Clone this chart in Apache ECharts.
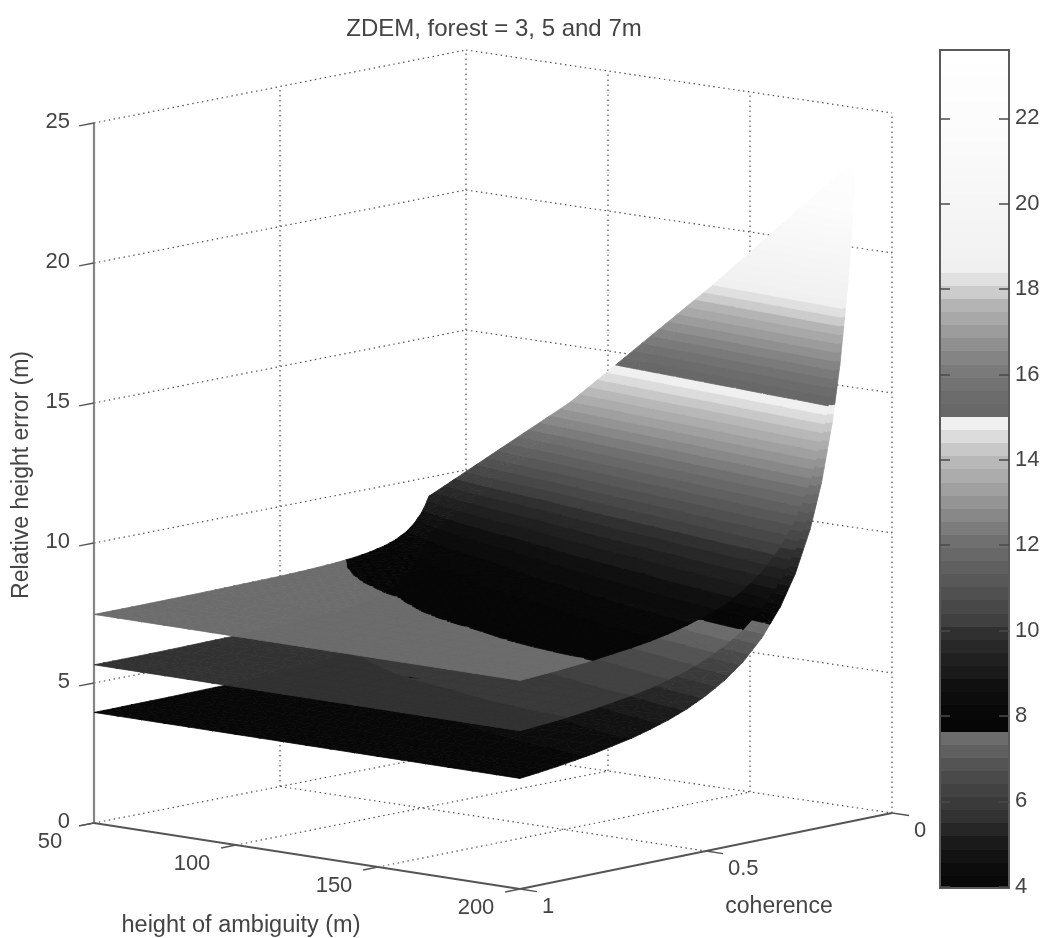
<!DOCTYPE html>
<html>
<head>
<meta charset="utf-8">
<style>
html,body{margin:0;padding:0;background:#fff}
#chart{width:1045px;height:938px;filter:blur(0.6px)}
</style>
<script src="https://cdn.jsdelivr.net/npm/echarts@6/dist/echarts.min.js"></script>
</head>
<body>
<div id="chart"></div>
<script>
// ---- data ----
const ambiguityTicks = [50, 100, 150, 200];
const coherenceTicks = [1, 0.5, 0];
const coherenceTickLabels = ['1', '0.5', '0'];
const heightTicks = [0, 5, 10, 15, 20, 25];
const colorbarTicks = [4, 6, 8, 10, 12, 14, 16, 18, 20, 22];

const ambiguitySamples = [50, 100, 150, 200];
const coherenceSamples = [1, 0.95, 0.9, 0.8, 0.7, 0.65, 0.6, 0.55, 0.5, 0.45, 0.4, 0.35, 0.3, 0.26, 0.22, 0.19, 0.16, 0.14, 0.12, 0.11, 0.10];

const surfaceLow = [
  [3.95, 3.95, 3.95, 3.95], [3.95, 3.96, 3.99, 4.02], [3.96, 3.99, 4.03, 4.10], [3.97, 4.04, 4.15, 4.30], [3.99, 4.11, 4.31, 4.57],
  [4.00, 4.16, 4.41, 4.75], [4.02, 4.22, 4.55, 4.96], [4.04, 4.30, 4.71, 5.22], [4.07, 4.40, 4.92, 5.55], [4.10, 4.54, 5.18, 5.96],
  [4.15, 4.71, 5.52, 6.49], [4.23, 4.97, 6.00, 7.20],
  [4.34, 5.33, 6.67, 8.18], [4.47, 5.75, 7.41, 9.25], [4.67, 6.36, 8.46, 10.73], [4.90, 7.03, 9.58, 12.28],
  [5.26, 7.99, 11.14, 14.43], [5.61, 8.88, 12.57, 16.39], [6.10, 10.11, 14.51, 19.02], [6.44, 10.90, 15.75, 20.71],
  [6.85, 11.87, 17.25, 22.74]
];
const surfaceMid = [
  [5.65, 5.65, 5.65, 5.65], [5.65, 5.66, 5.68, 5.70], [5.65, 5.67, 5.71, 5.75], [5.66, 5.71, 5.79, 5.90], [5.68, 5.76, 5.91, 6.10],
  [5.69, 5.80, 5.98, 6.23], [5.70, 5.84, 6.08, 6.40], [5.71, 5.90, 6.20, 6.60], [5.73, 5.97, 6.36, 6.86], [5.76, 6.07, 6.56, 7.20],
  [5.79, 6.21, 6.84, 7.64], [5.85, 6.40, 7.23, 8.25],
  [5.92, 6.69, 7.79, 9.12], [6.02, 7.03, 8.44, 10.09], [6.18, 7.54, 9.38, 11.47], [6.35, 8.11, 10.39, 12.93],
  [6.63, 8.95, 11.84, 14.99], [6.91, 9.76, 13.20, 16.88], [7.32, 10.89, 15.06, 19.45], [7.60, 11.63, 16.26, 21.10],
  [7.95, 12.54, 17.72, 23.09]
];
const surfaceTop = [
  [7.45, 7.45, 7.45, 7.45], [7.45, 7.46, 7.47, 7.49], [7.45, 7.47, 7.49, 7.53], [7.46, 7.50, 7.56, 7.64], [7.47, 7.54, 7.65, 7.80],
  [7.48, 7.57, 7.71, 7.90], [7.49, 7.60, 7.78, 8.03], [7.50, 7.64, 7.88, 8.20], [7.51, 7.70, 8.00, 8.41], [7.53, 7.78, 8.17, 8.68],
  [7.56, 7.88, 8.39, 9.06], [7.60, 8.03, 8.71, 9.58],
  [7.66, 8.27, 9.18, 10.33], [7.74, 8.54, 9.74, 11.20], [7.86, 8.97, 10.56, 12.45], [8.00, 9.45, 11.47, 13.81],
  [8.22, 10.18, 12.80, 15.75], [8.45, 10.90, 14.07, 17.57], [8.78, 11.92, 15.82, 20.05], [9.02, 12.60, 16.97, 21.65],
  [9.32, 13.45, 18.37, 23.60]
];

// 64-entry grey colormap, as seen in the colour bar (bottom to top)
const colormapGreys = [
  8, 12, 18, 26, 38, 50, 58, 66, 74, 84, 96, 108,
  6, 8, 12, 16, 26, 32, 40, 48, 64, 72, 80, 88, 96, 104, 112, 124, 136, 148, 160, 172, 184, 200, 220, 240,
  104, 108, 114, 122, 132, 144, 156, 168, 180, 204, 224,
  240, 242, 243, 244, 245, 246, 247, 248, 249, 250, 251, 252, 252, 253, 253, 254, 255
];
const colorMin = 3.95;
const colorMax = 23.6;

// ---- view of the 3D box: screen units of the hidden page axes ----
const VIEW = { ox: 94, oy: 823, ux: 426, uy: 66, vx: 372, vy: -73, twist: -3, zs: 28 };
function project(amb, coh, z) {
  const u = (amb - 50) / 150, v = 1 - coh;
  return [VIEW.ox + VIEW.ux * u + VIEW.vx * v,
          VIEW.oy + VIEW.uy * u + VIEW.vy * v + VIEW.twist * u * v - VIEW.zs * z];
}

const levelStep = (colorMax - colorMin) / colormapGreys.length;
const greyCss = i => { const g = colormapGreys[i]; return 'rgb(' + g + ',' + g + ',' + g + ')'; };

// clip a polygon [x,y,z] to the z range of a colour band
function clipBand(poly, lo, hi) {
  const clip = (pts, keep, lim) => {
    const out = [];
    for (let i = 0; i < pts.length; i++) {
      const a = pts[i], b = pts[(i + 1) % pts.length];
      const ka = keep(a[2]), kb = keep(b[2]);
      if (ka) out.push(a);
      if (ka !== kb) {
        const t = (lim - a[2]) / (b[2] - a[2]);
        out.push([a[0] + t * (b[0] - a[0]), a[1] + t * (b[1] - a[1]), lim]);
      }
    }
    return out;
  };
  let p = poly;
  if (lo !== null) p = clip(p, z => z >= lo, lo);
  if (p.length && hi !== null) p = clip(p, z => z <= hi, hi);
  return p;
}

const SUB_A = 6, SUB_C = 2; // drawing subdivision of one table cell (shading only)
function surfaceSeries(table, order) {
  const cells = [];
  for (let j = coherenceSamples.length - 2; j >= 0; j--) {
    for (let i = 0; i < ambiguitySamples.length - 1; i++) cells.push([i, j]);
  }
  return {
    type: 'custom', coordinateSystem: 'cartesian2d', xAxisIndex: 0, yAxisIndex: 0,
    silent: true, z: 5 + order, animation: false, data: cells,
    renderItem(params, api) {
      const i = api.value(0), j = api.value(1);
      const vert = (sa, sc) => {
        const ta = sa / SUB_A, tc = sc / SUB_C;
        const z0 = table[j][i] * (1 - ta) + table[j][i + 1] * ta;
        const z1 = table[j + 1][i] * (1 - ta) + table[j + 1][i + 1] * ta;
        const z = z0 * (1 - tc) + z1 * tc;
        const amb = ambiguitySamples[i] * (1 - ta) + ambiguitySamples[i + 1] * ta;
        const coh = coherenceSamples[j] * (1 - tc) + coherenceSamples[j + 1] * tc;
        const s = api.coord(project(amb, coh, z));
        return [s[0], s[1], z];
      };
      const children = [];
      for (let sc = SUB_C - 1; sc >= 0; sc--) {
        for (let sa = 0; sa < SUB_A; sa++) {
          const p00 = vert(sa, sc), p10 = vert(sa + 1, sc), p01 = vert(sa, sc + 1), p11 = vert(sa + 1, sc + 1);
          const tris = [[p01, p10, p00], [p01, p11, p10]];
          tris.forEach(t => {
            const zs = t.map(q => q[2]);
            const zmin = Math.min.apply(null, zs), zmax = Math.max.apply(null, zs);
            for (let k = 0; k < colormapGreys.length; k++) {
              const lo = k === 0 ? null : colorMin + k * levelStep;
              const hi = k === colormapGreys.length - 1 ? null : colorMin + (k + 1) * levelStep;
              if ((hi !== null && zmin > hi) || (lo !== null && zmax < lo)) continue;
              const poly = clipBand(t, lo, hi);
              if (poly.length < 3) continue;
              const c = greyCss(k);
              children.push({
                type: 'polygon',
                shape: { points: poly.map(q => [q[0], q[1]]) },
                style: { fill: c, stroke: c, lineWidth: 0.8 }
              });
            }
          });
        }
      }
      return { type: 'group', children };
    }
  };
}

// ---- box grid lines, as pairs of 3D ends ----
const minA = ambiguityTicks[0], maxA = ambiguityTicks[ambiguityTicks.length - 1];
const topZ = heightTicks[heightTicks.length - 1];
const gridSegments = [];
heightTicks.forEach(z => {
  gridSegments.push([[minA, 1, z], [minA, 0, z]]);
  gridSegments.push([[minA, 0, z], [maxA, 0, z]]);
});
ambiguityTicks.slice(1).forEach(a => gridSegments.push([[a, 0, 0], [a, 0, topZ]]));
ambiguityTicks.slice(1, 3).forEach(a => gridSegments.push([[a, 1, 0], [a, 0, 0]]));
gridSegments.push([[minA, 0.5, 0], [minA, 0.5, topZ]]);
gridSegments.push([[minA, 0, 0], [minA, 0, topZ]]);
gridSegments.push([[minA, 0.5, 0], [maxA, 0.5, 0]]);

const gridSeries = {
  type: 'custom', coordinateSystem: 'cartesian2d', xAxisIndex: 0, yAxisIndex: 0,
  silent: true, z: 2, animation: false,
  data: gridSegments.map((s, i) => [i]),
  renderItem(params, api) {
    const s = gridSegments[api.value(0)];
    const a = api.coord(project.apply(null, s[0])), b = api.coord(project.apply(null, s[1]));
    return { type: 'line', shape: { x1: a[0], y1: a[1], x2: b[0], y2: b[1] },
      style: { stroke: '#555', lineWidth: 1.2, lineDash: [1.5, 3.5] } };
  }
};

// ---- box axes, ticks and tick labels ----
const axisItems = [];
const axisColor = '#555', labelColor = '#444', labelFont = '22px "Liberation Sans"';
axisItems.push({ seg: [[minA, 1, 0], [minA, 1, topZ]], color: '#858585', width: 2.2 });
axisItems.push({ seg: [[minA, 1, 0], [maxA, 1, 0]], color: axisColor, width: 1.8 });
axisItems.push({ seg: [[maxA, 1, 0], [maxA, 0, 0]], color: axisColor, width: 1.8 });
heightTicks.forEach(z => {
  axisItems.push({ seg: [[minA, 1, z], [minA, 1.04, z]], color: axisColor, width: 1.4 });
  axisItems.push({ at: [minA, 1, z], dx: -24, dy: -1, text: String(z), align: 'right' });
});
ambiguityTicks.forEach(a => {
  axisItems.push({ seg: [[a, 1, 0], [a, 1.04, 0]], color: axisColor, width: 1.4 });
  axisItems.push({ at: [a, 1, 0], dx: -44, dy: 19, text: String(a), align: 'center' });
});
coherenceTicks.forEach((c, i) => {
  axisItems.push({ seg: [[maxA, c, 0], [maxA + 6, c, 0]], color: axisColor, width: 1.4 });
  axisItems.push({ at: [maxA, c, 0], dx: 22, dy: 18, text: coherenceTickLabels[i], align: 'left' });
});

const axisSeries = {
  type: 'custom', coordinateSystem: 'cartesian2d', xAxisIndex: 0, yAxisIndex: 0,
  silent: true, z: 3, animation: false,
  data: axisItems.map((s, i) => [i]),
  renderItem(params, api) {
    const it = axisItems[api.value(0)];
    if (it.seg) {
      const a = api.coord(project.apply(null, it.seg[0])), b = api.coord(project.apply(null, it.seg[1]));
      return { type: 'line', shape: { x1: a[0], y1: a[1], x2: b[0], y2: b[1] },
        style: { stroke: it.color, lineWidth: it.width } };
    }
    const p = api.coord(project.apply(null, it.at));
    return { type: 'text', style: { x: p[0] + it.dx, y: p[1] + it.dy, text: it.text, fill: labelColor,
      font: labelFont, align: it.align, verticalAlign: 'middle' } };
  }
};

// ---- colour bar ----
const colorbarSeries = {
  type: 'custom', coordinateSystem: 'cartesian2d', xAxisIndex: 1, yAxisIndex: 1,
  silent: true, z: 1, animation: false,
  data: colormapGreys.map((g, i) => [i]),
  renderItem(params, api) {
    const k = api.value(0);
    const a = api.coord([0, colorMin + k * levelStep]);
    const b = api.coord([1, colorMin + (k + 1) * levelStep]);
    const top = Math.round(b[1]), bottom = Math.round(a[1]);
    return { type: 'rect', shape: { x: a[0], y: top, width: b[0] - a[0], height: bottom - top },
      style: { fill: greyCss(k) } };
  }
};

const frameLine = { show: true, onZero: false, lineStyle: { color: '#5a5a5a', width: 2 } };
const chart = echarts.init(document.getElementById('chart'));
chart.setOption({
  animation: false,
  backgroundColor: '#fff',
  title: {
    text: 'ZDEM, forest = 3, 5 and 7m', left: 489, top: 12, textAlign: 'center',
    textStyle: { fontFamily: 'Liberation Sans', fontSize: 24, fontWeight: 'normal', color: '#444' }
  },
  grid: [
    { left: 0, right: 0, top: 0, bottom: 0 },
    { left: 940, width: 69, top: 50, height: 838 }
  ],
  xAxis: [
    { type: 'value', gridIndex: 0, min: 0, max: 1045, show: false },
    { type: 'value', gridIndex: 1, min: 0, max: 1, position: 'bottom', axisLine: frameLine, axisTick: { show: false }, axisLabel: { show: false }, splitLine: { show: false }, z: 4 },
    { type: 'value', gridIndex: 1, min: 0, max: 1, position: 'top', axisLine: frameLine, axisTick: { show: false }, axisLabel: { show: false }, splitLine: { show: false }, z: 4 }
  ],
  yAxis: [
    { type: 'value', gridIndex: 0, min: 0, max: 938, inverse: true, show: false },
    { type: 'value', gridIndex: 1, min: 3.97, max: 23.6, position: 'right', axisLine: frameLine, splitLine: { show: false }, z: 4,
      axisTick: { show: true, inside: true, length: 10, customValues: colorbarTicks, lineStyle: { color: '#4a4a4a', width: 1.5 } },
      axisLabel: { show: true, customValues: colorbarTicks, margin: 6, color: labelColor, fontFamily: 'Liberation Sans', fontSize: 22 } },
    { type: 'value', gridIndex: 1, min: 3.97, max: 23.6, position: 'left', axisLine: frameLine, splitLine: { show: false }, z: 4,
      axisTick: { show: true, inside: true, length: 10, customValues: colorbarTicks, lineStyle: { color: '#4a4a4a', width: 1.5 } },
      axisLabel: { show: false } }
  ],
  graphic: [
    { type: 'text', x: 22, y: 475, rotation: Math.PI / 2, originX: 0, originY: 0,
      style: { text: 'Relative height error (m)', font: '23px "Liberation Sans"', fill: labelColor, align: 'center', verticalAlign: 'middle' } },
    { type: 'text', x: 241, y: 926,
      style: { text: 'height of ambiguity (m)', font: '23.5px "Liberation Sans"', fill: labelColor, align: 'center', verticalAlign: 'middle' } },
    { type: 'text', x: 779, y: 907,
      style: { text: 'coherence', font: '23px "Liberation Sans"', fill: labelColor, align: 'center', verticalAlign: 'middle' } }
  ],
  series: [
    gridSeries,
    axisSeries,
    surfaceSeries(surfaceLow, 0),
    surfaceSeries(surfaceMid, 1),
    surfaceSeries(surfaceTop, 2),
    colorbarSeries
  ]
});
</script>
</body>
</html>
